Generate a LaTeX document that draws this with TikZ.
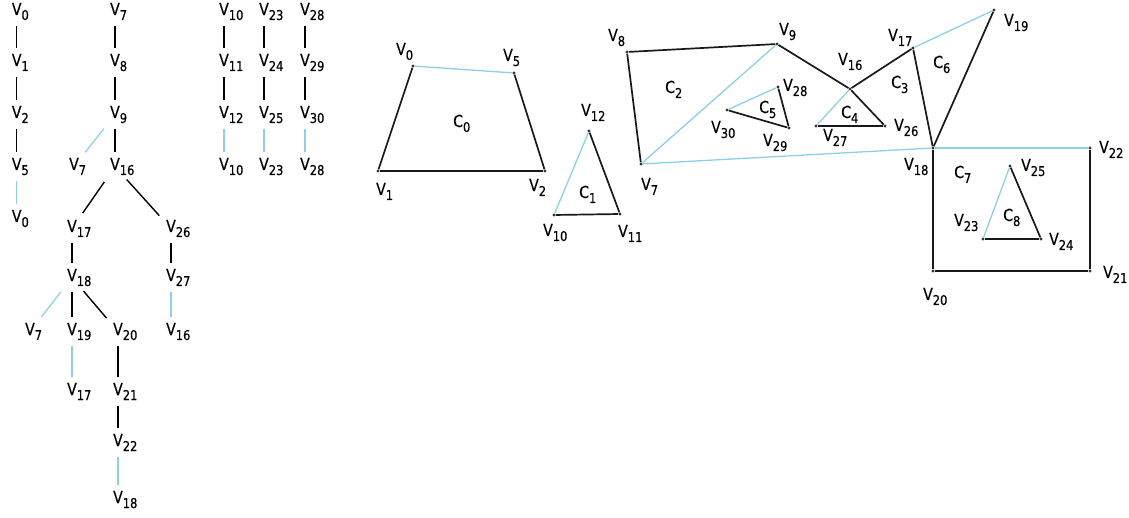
\documentclass[tikz,border=0pt]{standalone}
\usepackage{fontspec}
\setmainfont{DejaVu Sans}[FakeStretch=0.85,FakeBold=0.5]
\definecolor{lineblue}{RGB}{140,208,232}
\newcommand\subf{\fontsize{13.5}{13.5}\selectfont}
\newcommand\vl[1]{V\rlap{\raisebox{-5pt}{\subf #1}}}
\newcommand\cl[1]{C\rlap{\raisebox{-5pt}{\subf #1}}}
\begin{document}
\begin{tikzpicture}[x=1pt,y=-1pt,
  lab/.style={inner sep=0pt, font=\fontsize{16.5}{16.5}\selectfont},
  tn/.style={lab, anchor=base},
  gl/.style={lab, anchor=base west},
  te/.style={line width=1.4pt, black, shorten <=6pt, shorten >=6pt},
  be/.style={te, draw=lineblue, line width=1.2pt},
  td/.style={shorten <=10pt, shorten >=10pt},
  ge/.style={line width=1.7pt, black!90},
  gb/.style={line width=1.3pt, lineblue},
  dot/.style={circle, fill=black!80, minimum size=3.2pt, inner sep=0pt}]
\useasboundingbox (0,0) rectangle (1129,518);

% ---------- trees ----------
\node[tn] (a0) at (16.7,15) {\vl{0}};
\node[tn] (a1) at (16.7,66) {\vl{1}};
\node[tn] (a2) at (16.7,118) {\vl{2}};
\node[tn] (a5) at (16.7,170) {\vl{5}};
\node[tn] (a0b) at (16.7,222) {\vl{0}};
\draw[te] (a0) -- (a1);
\draw[te] (a1) -- (a2);
\draw[te] (a2) -- (a5);
\draw[be] (a5) -- (a0b);

\node[tn] (b7) at (115,15) {\vl{7}};
\node[tn] (b8) at (115,66) {\vl{8}};
\node[tn] (b9) at (115,118) {\vl{9}};
\node[tn] (b16) at (115,170) {\vl{16}};
\node[tn] (b7b) at (74,170) {\vl{7}};
\node[tn] (b17) at (72,232) {\vl{17}};
\node[tn] (b26) at (171,232) {\vl{26}};
\node[tn] (b18) at (72,281) {\vl{18}};
\node[tn] (b27) at (171,281) {\vl{27}};
\node[tn] (b7c) at (30,335) {\vl{7}};
\node[tn] (b19) at (72,335) {\vl{19}};
\node[tn] (b20) at (118,335) {\vl{20}};
\node[tn] (b16b) at (171,335) {\vl{16}};
\node[tn] (b17b) at (72,395) {\vl{17}};
\node[tn] (b21) at (118,395) {\vl{21}};
\node[tn] (b22) at (118,446) {\vl{22}};
\node[tn] (b18b) at (118,503) {\vl{18}};
\draw[te] (b7) -- (b8);
\draw[te] (b8) -- (b9);
\draw[te] (b9) -- (b16);
\draw[be,td] (b9) -- (b7b);
\draw[te,td] (b16) -- (b17);
\draw[te,td] (b16) -- (b26);
\draw[te] (b17) -- (b18);
\draw[te] (b26) -- (b27);
\draw[be] (b27) -- (b16b);
\draw[be,td] (b18) -- (b7c);
\draw[te] (b18) -- (b19);
\draw[te,td] (b18) -- (b20);
\draw[be] (b19) -- (b17b);
\draw[te] (b20) -- (b21);
\draw[te] (b21) -- (b22);
\draw[be] (b22) -- (b18b);

\node[tn] (c10) at (224,15) {\vl{10}};
\node[tn] (c11) at (224,66) {\vl{11}};
\node[tn] (c12) at (224,118) {\vl{12}};
\node[tn] (c10b) at (224,170) {\vl{10}};
\node[tn] (d23) at (264,15) {\vl{23}};
\node[tn] (d24) at (264,66) {\vl{24}};
\node[tn] (d25) at (264,118) {\vl{25}};
\node[tn] (d23b) at (264,170) {\vl{23}};
\node[tn] (e28) at (305,15) {\vl{28}};
\node[tn] (e29) at (305,66) {\vl{29}};
\node[tn] (e30) at (305,118) {\vl{30}};
\node[tn] (e28b) at (305,170) {\vl{28}};
\draw[te] (c10) -- (c11);
\draw[te] (c11) -- (c12);
\draw[be] (c12) -- (c10b);
\draw[te] (d23) -- (d24);
\draw[te] (d24) -- (d25);
\draw[be] (d25) -- (d23b);
\draw[te] (e28) -- (e29);
\draw[te] (e29) -- (e30);
\draw[be] (e30) -- (e28b);

% ---------- graph vertices ----------
\node[dot] (g0) at (413,66) {};
\node[dot] (g5) at (514,73) {};
\node[dot] (g1) at (378,171) {};
\node[dot] (g2) at (545,171) {};
\node[dot] (g12) at (589,131) {};
\node[dot] (g10) at (554,215) {};
\node[dot] (g11) at (620,214) {};
\node[dot] (g8) at (627,52) {};
\node[dot] (g9) at (777,44) {};
\node[dot] (g7) at (641,164) {};
\node[dot] (g16) at (850,89) {};
\node[dot] (g28) at (778,87) {};
\node[dot] (g30) at (727,110) {};
\node[dot] (g29) at (789,128) {};
\node[dot] (g27) at (816,126) {};
\node[dot] (g26) at (885,126) {};
\node[dot] (g17) at (913,48) {};
\node[dot] (g19) at (994,10) {};
\node[dot] (g18) at (933,148) {};
\node[dot] (g22) at (1090,148) {};
\node[dot] (g20) at (933,271) {};
\node[dot] (g21) at (1090,271) {};
\node[dot] (g25) at (1010,166) {};
\node[dot] (g23) at (983,239) {};
\node[dot] (g24) at (1041,239) {};

% ---------- graph edges ----------
\draw[ge] (g0) -- (g1);
\draw[ge] (g1) -- (g2);
\draw[ge] (g2) -- (g5);
\draw[gb] (g0) -- (g5);
\draw[ge] (g10) -- (g11);
\draw[ge] (g11) -- (g12);
\draw[gb] (g12) -- (g10);
\draw[ge] (g8) -- (g9);
\draw[ge] (g7) -- (g8);
\draw[gb] (g9) -- (g7);
\draw[ge] (g9) -- (g16);
\draw[ge] (g16) -- (g26);
\draw[ge] (g26) -- (g27);
\draw[gb] (g27) -- (g16);
\draw[ge] (g16) -- (g17);
\draw[ge] (g17) -- (g18);
\draw[ge] (g18) -- (g19);
\draw[gb] (g19) -- (g17);
\draw[gb] (g7) -- (g18);
\draw[gb] (g18) -- (g22);
\draw[ge] (g22) -- (g21);
\draw[ge] (g21) -- (g20);
\draw[ge] (g20) -- (g18);
\draw[gb] (g28) -- (g30);
\draw[ge] (g30) -- (g29);
\draw[ge] (g29) -- (g28);
\draw[gb] (g25) -- (g23);
\draw[ge] (g23) -- (g24);
\draw[ge] (g24) -- (g25);

% ---------- graph labels ----------
\node[gl] (l0) at (396,55) {\vl{0}};
\node[gl] (l5) at (503,61) {\vl{5}};
\node[gl] (l1) at (376,195) {\vl{1}};
\node[gl] (l2) at (529,191) {\vl{2}};
\node[gl] (l12) at (581,116) {\vl{12}};
\node[gl] (l10) at (543,236) {\vl{10}};
\node[gl] (l11) at (618,237) {\vl{11}};
\node[gl] (l8) at (608,41) {\vl{8}};
\node[gl] (l9) at (779,35) {\vl{9}};
\node[gl] (l16) at (838,65) {\vl{16}};
\node[gl] (l28) at (783,91) {\vl{28}};
\node[gl] (l30) at (711,133) {\vl{30}};
\node[gl] (l29) at (763,146) {\vl{29}};
\node[gl] (l27) at (823,141) {\vl{27}};
\node[gl] (l7) at (641,190) {\vl{7}};
\node[gl] (l17) at (888,41) {\vl{17}};
\node[gl] (l19) at (1004,26) {\vl{19}};
\node[gl] (l26) at (894,131) {\vl{26}};
\node[gl] (l18) at (904,170) {\vl{18}};
\node[gl] (l22) at (1099,153) {\vl{22}};
\node[gl] (l25) at (1021,171) {\vl{25}};
\node[gl] (l23) at (954,226) {\vl{23}};
\node[gl] (l24) at (1049,245) {\vl{24}};
\node[gl] (l21) at (1103,278) {\vl{21}};
\node[gl] (l20) at (923,300) {\vl{20}};

\node[gl] (k0) at (453,127) {\cl{0}};
\node[gl] (k1) at (579,198) {\cl{1}};
\node[gl] (k2) at (665,93) {\cl{2}};
\node[gl] (k3) at (891,88) {\cl{3}};
\node[gl] (k4) at (841,118) {\cl{4}};
\node[gl] (k5) at (759,113) {\cl{5}};
\node[gl] (k6) at (933,68) {\cl{6}};
\node[gl] (k7) at (954,178) {\cl{7}};
\node[gl] (k8) at (1003,221) {\cl{8}};
\end{tikzpicture}
\end{document}
